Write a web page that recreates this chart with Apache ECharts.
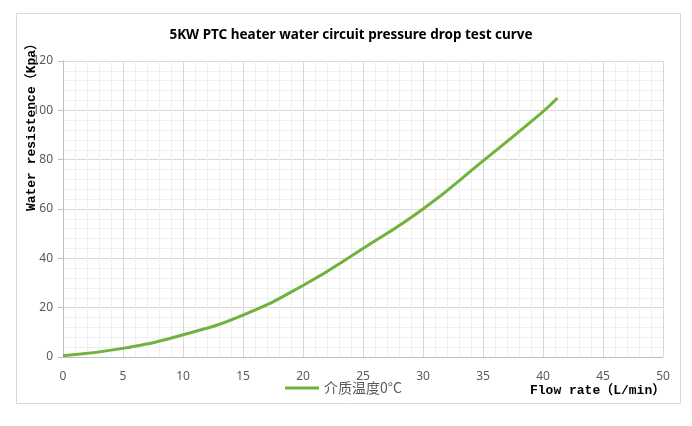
<!DOCTYPE html>
<html>
<head>
<meta charset="utf-8">
<script src="https://cdn.jsdelivr.net/npm/echarts@6/dist/echarts.min.js"></script>
<style>
  html, body { margin: 0; padding: 0; background: #fff; }
  #chart { width: 692px; height: 426px; }
</style>
</head>
<body>
<div id="chart"></div>
<script>
const flowRate = [0, 5, 10, 15, 20, 25, 30, 35, 40, 41.2];
const resistance = [0.5, 3.5, 9, 17, 29, 44, 60, 79.5, 99.5, 105];
const seriesName = '介质温度0°C';

const chart = echarts.init(document.getElementById('chart'));
const labelColor = '#595959';
const nameFont = "'Liberation Mono', 'Noto Sans CJK SC', monospace";

const option = {
    backgroundColor: '#fff',
    animation: false,
    title: {
        text: '5KW PTC heater water circuit pressure drop test curve',
        left: 351,
        top: 28,
        padding: 0,
        textAlign: 'center',
        textStyle: {
            fontFamily: "'Noto Sans', sans-serif",
            fontSize: 13.5,
            fontWeight: 'bold',
            color: '#000'
        }
    },
    legend: {
        left: 285,
        top: 381,
        padding: 0,
        icon: 'rect',
        itemWidth: 34,
        itemHeight: 3,
        itemGap: 10,
        textStyle: {
            fontFamily: "'Noto Sans CJK SC', sans-serif",
            fontSize: 14,
            color: labelColor
        },
        data: [seriesName]
    },
    grid: {
        left: 63,
        right: 29,
        top: 61,
        bottom: 69,
        containLabel: false
    },
    xAxis: {
        type: 'value',
        min: 0,
        max: 50,
        interval: 5,
        axisLine: { lineStyle: { color: '#bfbfbf' } },
        axisTick: { show: false },
        axisLabel: {
            margin: 14,
            fontFamily: "'Noto Sans', sans-serif",
            fontSize: 12,
            color: labelColor
        },
        splitLine: { show: true, lineStyle: { color: '#d9d9d9' } },
        minorTick: { show: false, splitNumber: 5 },
        minorSplitLine: { show: true, lineStyle: { color: '#efefef' } }
    },
    yAxis: {
        type: 'value',
        min: 0,
        max: 120,
        interval: 20,
        axisLine: { show: true, lineStyle: { color: '#bfbfbf' } },
        axisTick: { show: true, length: 5, lineStyle: { color: '#bfbfbf' } },
        axisLabel: {
            margin: 10,
            fontFamily: "'Noto Sans', sans-serif",
            fontSize: 12,
            color: labelColor
        },
        splitLine: { show: true, lineStyle: { color: '#d9d9d9' } },
        minorTick: { show: false, splitNumber: 5 },
        minorSplitLine: { show: true, lineStyle: { color: '#efefef' } }
    },
    graphic: [
        {
            type: 'rect',
            shape: { x: 16.5, y: 13.5, width: 664, height: 390 },
            style: { fill: 'none', stroke: '#d9d9d9', lineWidth: 1 },
            silent: true
        },
        {
            type: 'text',
            x: 32,
            y: 124,
            rotation: Math.PI / 2,
            style: {
                text: 'Water resistence（Kpa）',
                font: 'bold 13px ' + nameFont,
                fill: '#000',
                textAlign: 'center',
                textVerticalAlign: 'middle'
            }
        },
        {
            type: 'text',
            x: 530,
            y: 391,
            style: {
                text: 'Flow rate（L/min）',
                font: 'bold 13px ' + nameFont,
                fill: '#000',
                textAlign: 'left',
                textVerticalAlign: 'middle'
            }
        }
    ],
    series: [
        {
            name: seriesName,
            type: 'line',
            smooth: true,
            symbol: 'none',
            lineStyle: { color: '#6fb33f', width: 3 },
            itemStyle: { color: '#6fb33f' },
            data: flowRate.map((x, i) => [x, resistance[i]])
        }
    ]
};
chart.setOption(option);
</script>
</body>
</html>
